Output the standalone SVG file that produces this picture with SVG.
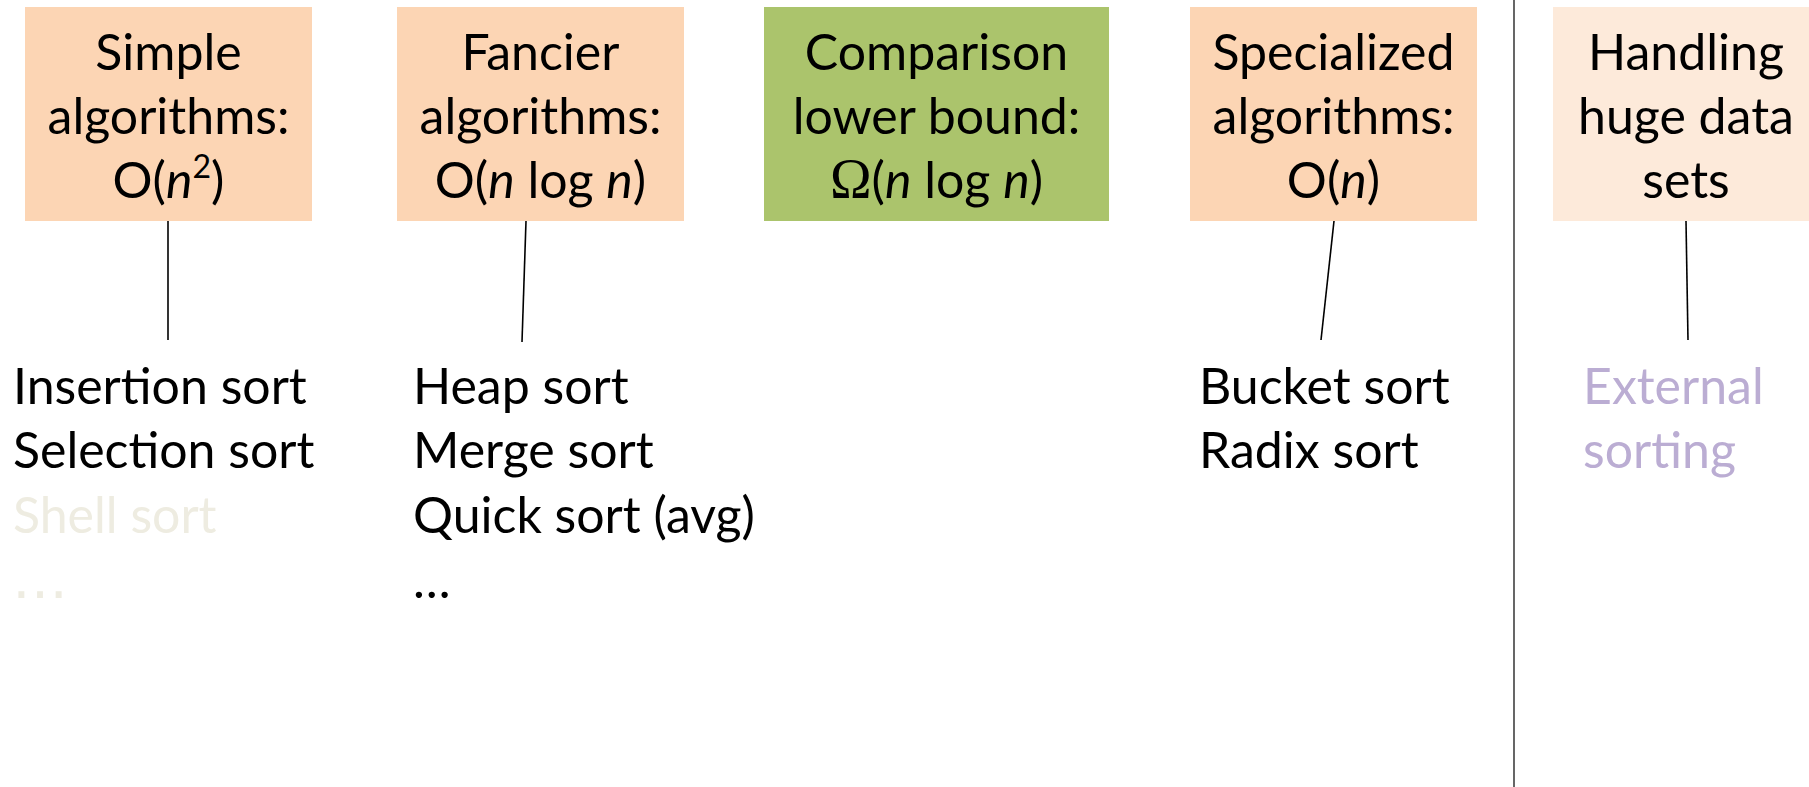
<svg xmlns="http://www.w3.org/2000/svg" width="1809" height="787" viewBox="0 0 1809 787">
<style>
  .t { font-family: Lato, "Liberation Sans", sans-serif; font-size: 50px; fill: #000; }
  .c { text-anchor: middle; }
  .i { font-style: italic; }
  .om { font-family: "Liberation Serif", serif; font-size: 56px; }
  .orange { fill: #FCD5B4; }
  .green { fill: #ABC46C; }
  .pale { fill: #FDEADA; }
  .conn { stroke: #000; stroke-width: 1.6; fill: none; }
</style>
<rect x="0" y="0" width="1809" height="787" fill="#fff"/>
<line x1="1514" y1="0" x2="1514" y2="787" stroke="#404040" stroke-width="1.6"/>
<g id="simple">
  <rect class="orange" x="25" y="7" width="287" height="214"/>
  <text class="t c" x="168.5" y="70">Simple</text>
  <text class="t c" x="168.5" y="134">algorithms:</text>
  <text class="t c" x="168.5" y="198">O(<tspan class="i">n</tspan><tspan font-size="32" dy="-20">2</tspan><tspan dy="20">)</tspan></text>
</g>
<g id="fancier">
  <rect class="orange" x="397" y="7" width="287" height="214"/>
  <text class="t c" x="540.5" y="70">Fancier</text>
  <text class="t c" x="540.5" y="134">algorithms:</text>
  <text class="t c" x="540.5" y="198">O(<tspan class="i">n</tspan> log <tspan class="i">n</tspan>)</text>
</g>
<g id="lowerbound">
  <rect class="green" x="764" y="7" width="345" height="214"/>
  <text class="t c" x="936.5" y="70">Comparison</text>
  <text class="t c" x="936.5" y="134">lower bound:</text>
  <text class="t c" x="936.5" y="198"><tspan class="om">Ω</tspan>(<tspan class="i">n</tspan> log <tspan class="i">n</tspan>)</text>
</g>
<g id="specialized">
  <rect class="orange" x="1190" y="7" width="287" height="214"/>
  <text class="t c" x="1333.5" y="70">Specialized</text>
  <text class="t c" x="1333.5" y="134">algorithms:</text>
  <text class="t c" x="1333.5" y="198">O(<tspan class="i">n</tspan>)</text>
</g>
<g id="huge">
  <rect class="pale" x="1553" y="7" width="266" height="214"/>
  <text class="t c" x="1686" y="70">Handling</text>
  <text class="t c" x="1686" y="134">huge data</text>
  <text class="t c" x="1686" y="198">sets</text>
</g>
<g id="connectors">
  <line class="conn" x1="168" y1="221" x2="168" y2="340"/>
  <line class="conn" x1="526" y1="221" x2="522" y2="342"/>
  <line class="conn" x1="1334" y1="221" x2="1321" y2="340"/>
  <line class="conn" x1="1686" y1="221" x2="1688" y2="340"/>
</g>
<g id="simple-list">
  <text class="t" x="13" y="404">Insertion sort</text>
  <text class="t" x="13" y="468">Selection sort</text>
  <text class="t" x="13" y="533" style="fill:#EEECE1">Shell sort</text>
  <text x="12" y="598" font-family="DejaVu Sans, sans-serif" font-size="56" fill="#EEECE1">…</text>
</g>
<g id="fancier-list">
  <text class="t" x="413" y="404">Heap sort</text>
  <text class="t" x="413" y="468">Merge sort</text>
  <text class="t" x="413" y="533">Quick sort (avg)</text>
  <text class="t" x="413" y="598">…</text>
</g>
<g id="specialized-list">
  <text class="t" x="1199" y="404">Bucket sort</text>
  <text class="t" x="1199" y="468">Radix sort</text>
</g>
<g id="huge-list">
  <text class="t" x="1583" y="404" style="fill:#BBADD3">External</text>
  <text class="t" x="1583" y="468" style="fill:#BBADD3">sorting</text>
</g>
</svg>
